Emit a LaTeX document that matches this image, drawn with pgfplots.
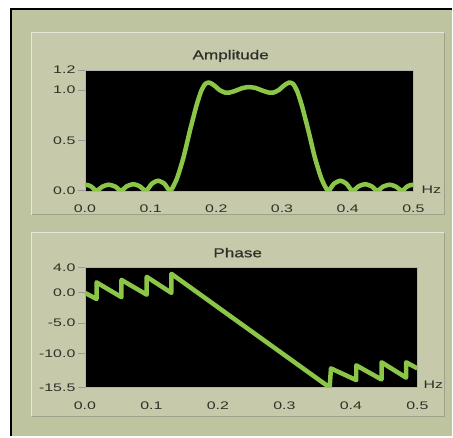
\documentclass[border=0pt]{standalone}
\usepackage{pgfplots}
\pgfplotsset{compat=1.18}
\usepackage{fontspec}
\setmainfont{Liberation Sans}[FakeStretch=1.45]
\newfontfamily\titlefont{Liberation Sans}[FakeStretch=1.32, FakeBold=0.6]
\definecolor{outerbg}{RGB}{190,195,160}
\definecolor{panelbg}{RGB}{198,202,170}
\definecolor{lg}{RGB}{140,198,72}
\definecolor{lbl}{RGB}{45,48,40}
\begin{document}
\begin{tikzpicture}[x=1pt,y=1pt]
\fill[white] (0,0) rectangle (453,437);
\fill[outerbg] (11,0) rectangle (453,428);
\draw[black,line width=1.2pt] (11,0) -- (11,428) -- (453,428);
% panels
\fill[panelbg] (32,222) rectangle (445,404);
\draw[white!55!panelbg, line width=1pt] (32,222) -- (32,404) -- (445,404);
\draw[black!20!panelbg, line width=1pt] (32,222) -- (445,222) -- (445,404);
\fill[panelbg] (32,20) rectangle (445,204);
\draw[white!55!panelbg, line width=1pt] (32,20) -- (32,204) -- (445,204);
\draw[black!20!panelbg, line width=1pt] (32,20) -- (445,20) -- (445,204);
\pgfplotsset{
  myax/.style={
    scale only axis, anchor=south west,
    xmin=0, xmax=0.5,
    axis background/.style={fill=black},
    axis line style={draw=gray!60},
    tickpos=left, tick align=outside,
    xtick style={draw=none},
    ytick style={draw=gray!80, line width=0.8pt},
    major tick length=7pt,
    xtick={0,0.1,0.2,0.3,0.4,0.5},
    xticklabels={0.0,0.1,0.2,0.3,0.4,0.5},
    tick label style={font=\fontsize{11}{11}\selectfont, text=lbl},
    xticklabel style={yshift=-4pt},
    yticklabel style={xshift=1pt},
    /pgf/number format/assume math mode=true,
  }
}
\begin{axis}[myax, at={(85pt,246pt)}, width=329pt, height=121pt,
  ymin=0, ymax=1.2,
  ytick={0,0.5,1,1.2}, yticklabels={0.0,0.5,1.0,1.2}]
\addplot[color=lg, line width=4.5pt, line join=round, smooth, tension=0.4] table {
0 0.06
0.005 0.055
0.010 0.04
0.0175 0
0.027 0.042
0.036 0.06
0.046 0.042
0.055 0
0.064 0.046
0.074 0.065
0.083 0.046
0.093 0
0.102 0.07
0.111 0.10
0.121 0.07
0.130 0
0.140 0.12
0.150 0.33
0.160 0.60
0.170 0.85
0.177 0.99
0.183 1.06
0.189 1.075
0.196 1.05
0.205 1.00
0.213 0.975
0.220 0.975
0.230 0.995
0.240 1.02
0.250 1.03
0.260 1.02
0.270 0.995
0.280 0.975
0.287 0.975
0.295 1.00
0.304 1.05
0.311 1.075
0.317 1.06
0.323 0.99
0.330 0.85
0.340 0.60
0.350 0.33
0.360 0.12
0.370 0
0.379 0.07
0.389 0.10
0.398 0.07
0.407 0
0.417 0.046
0.426 0.065
0.436 0.046
0.445 0
0.454 0.042
0.464 0.06
0.473 0.042
0.4825 0
0.490 0.04
0.495 0.055
0.500 0.06
};
\end{axis}
\begin{axis}[myax, at={(85pt,49pt)}, width=333pt, height=120pt,
  ymin=-15.5, ymax=4,
  ytick={-15.5,-10,-5,0,4}, yticklabels={-15.5,-10.0,-5.0,0.0,4.0}]
\addplot[color=lg, line width=4.5pt, line join=round] table {
0 -0.1
0.0175 -1.1
0.0175 1.6
0.055 -0.8
0.055 2.0
0.093 -0.4
0.093 2.5
0.130 -0.1
0.130 3.0
0.368 -15.5
0.370 -12.4
0.408 -14.3
0.408 -11.9
0.446 -14.2
0.446 -11.4
0.483 -13.9
0.483 -11.4
0.500 -12.4
};
\end{axis}
\node[font=\titlefont\fontsize{13}{13}\selectfont, text=lbl] at (231,381) {Amplitude};
\node[font=\titlefont\fontsize{13}{13}\selectfont, text=lbl] at (238,184) {Phase};
\node[font=\fontsize{11}{11}\selectfont, text=lbl] at (432,247) {Hz};
\node[font=\fontsize{11}{11}\selectfont, text=lbl] at (434,52) {Hz};
\end{tikzpicture}
\end{document}
